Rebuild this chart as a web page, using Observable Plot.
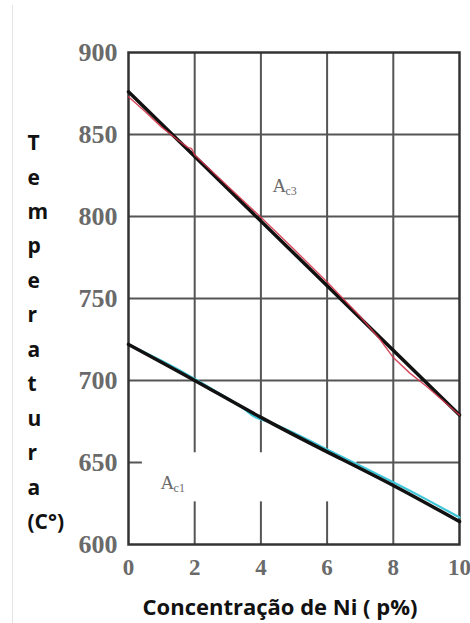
<!DOCTYPE html>
<html>
<head>
<meta charset="utf-8">
<script src="https://cdn.jsdelivr.net/npm/d3@7"></script>
<script src="https://cdn.jsdelivr.net/npm/@observablehq/plot@0.6"></script>
<style>
  html, body { margin: 0; padding: 0; background: #fff; }
  #wrap { position: relative; width: 470px; height: 623px; overflow: hidden; }
  #edge { position: absolute; left: 12px; top: 5px; width: 0; height: 618px; border-left: 1.5px solid #e2e4e6; }
</style>
</head>
<body>
<div id="wrap"><div id="edge"></div></div>
<script>
// ---- data ----
const xTicks = [0, 2, 4, 6, 8, 10];
const yTicks = [600, 650, 700, 750, 800, 850, 900];

// Ac3 fitted line (black) and measured curve (red)
const ac3FitX = [0, 10];
const ac3FitT = [876, 679];
const ac3RawX = [0, 0.5, 1, 1.5, 1.8, 1.9, 2, 3, 4, 5, 6, 7, 7.6, 8, 8.5, 9, 10];
const ac3RawT = [873, 864, 854.5, 846.5, 842, 841.5, 837.5, 818.5, 799.5, 780, 760, 739, 725, 714, 704.5, 696.5, 679];

// Ac1 fitted line (black) and measured curve (cyan)
const ac1FitX = [0, 2, 4, 6, 8, 10];
const ac1FitT = [722, 700, 677.5, 656.5, 636, 614];
const ac1RawX = [0, 1, 2, 3, 3.5, 3.8, 4.2, 5, 6, 7, 8, 9, 10];
const ac1RawT = [722, 712, 701, 689, 682.5, 678, 675, 668, 658, 648, 638, 627.5, 616.5];

// grid segments: [x, T from, T to]
const vGrid = [[2, 656, 900], [2, 600, 626], [4, 656, 900], [4, 600, 626], [6, 656, 900], [6, 600, 626], [8, 600, 900]];
// [T, x from, x to]
const hGrid = [[650, 0, 0.42], [650, 6.9, 10], [700, 0, 10], [750, 0, 10], [800, 0, 10], [850, 0, 10]];

const labels = [
  {x: 4.35, t: 815, main: "A", sub: "c3"},
  {x: 0.97, t: 634, main: "A", sub: "c1"}
];

const yTitle = "T\ne\nm\np\ne\nr\na\nt\nu\nr\na\n(C°)";
const xTitle = "Concentração de Ni ( p%)";

// ---- build ----
const zip = (xs, ts) => xs.map((x, i) => ({x, t: ts[i]}));
const serif = "'Liberation Serif', 'DejaVu Serif', serif";
const sans = "'Open Sans', 'Noto Sans', sans-serif";

const chart = Plot.plot({
  width: 470,
  height: 623,
  marginLeft: 128,
  marginRight: 11,
  marginTop: 52,
  marginBottom: 79,
  style: {background: "transparent", overflow: "visible"},
  x: {domain: [0, 10], label: null},
  y: {domain: [600, 900], label: null},
  marks: [
    Plot.ruleX(vGrid, {x: d => d[0], y1: d => d[1], y2: d => d[2], stroke: "#555", strokeWidth: 2}),
    Plot.ruleY(hGrid, {y: d => d[0], x1: d => d[1], x2: d => d[2], stroke: "#555", strokeWidth: 2}),
    Plot.frame({stroke: "#333", strokeWidth: 2.5}),
    Plot.axisX({ticks: xTicks, tickSize: 0, tickPadding: 14, fontSize: 23, fontFamily: serif, color: "#6a6a6a", fontWeight: "bold", label: null}),
    Plot.axisY({ticks: yTicks, tickSize: 0, tickPadding: 11, fontSize: 26, fontFamily: serif, color: "#6a6a6a", fontWeight: "bold", label: null}),
    Plot.line(zip(ac3FitX, ac3FitT), {x: "x", y: "t", stroke: "#111", strokeWidth: 3.5}),
    Plot.line(zip(ac3RawX, ac3RawT), {x: "x", y: "t", stroke: "#d2354a", strokeWidth: 1.4, strokeOpacity: 0.9}),
    Plot.line(zip(ac1RawX, ac1RawT), {x: "x", y: "t", stroke: "#3ec6d8", strokeWidth: 2.2, curve: "natural"}),
    Plot.line(zip(ac1FitX, ac1FitT), {x: "x", y: "t", stroke: "#111", strokeWidth: 3.5, curve: "natural"}),
    Plot.text(labels, {x: "x", y: "t", text: "main", textAnchor: "start", lineAnchor: "bottom", fontSize: 19, fontFamily: serif, fill: "#6a6a6a"}),
    Plot.text(labels, {x: "x", y: "t", text: "sub", textAnchor: "start", lineAnchor: "bottom", dx: 13, dy: 3, fontSize: 12, fontFamily: serif, fill: "#6a6a6a"}),
    Plot.text([yTitle], {frameAnchor: "left", text: d => d, textAnchor: "start", dx: -101, dy: 30, lineHeight: 1.64, fontSize: 21, fontWeight: "bold", fontFamily: sans, fill: "#111"}),
    Plot.text([xTitle], {frameAnchor: "bottom", text: d => d, dx: -14, dy: 70, fontSize: 22, fontWeight: "bold", fontFamily: sans, fill: "#111"})
  ]
});
chart.style.position = "absolute";
chart.style.left = "0";
chart.style.top = "0";
document.getElementById("wrap").appendChild(chart);
</script>
</body>
</html>
